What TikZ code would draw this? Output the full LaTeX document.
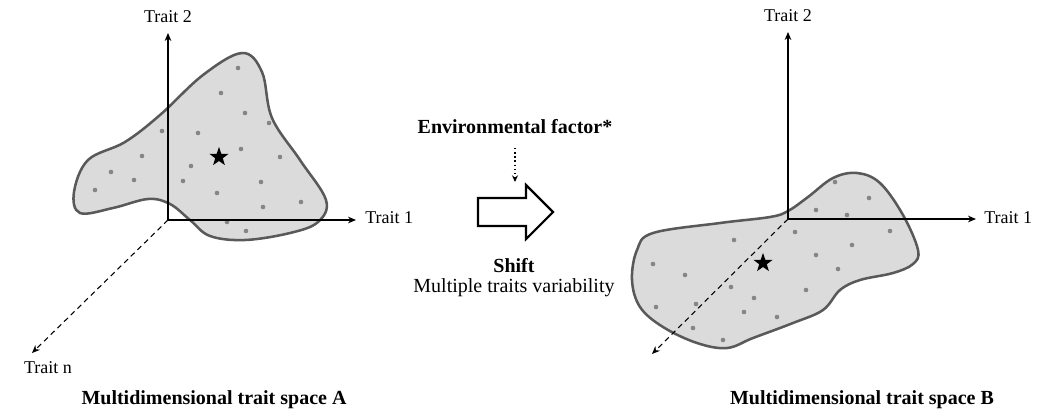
\documentclass[tikz,border=0pt]{standalone}
\usepackage{fontspec}
\setmainfont{Liberation Serif}
\usepackage{tikz}
\usetikzlibrary{arrows.meta,shapes.geometric}

\tikzset{
  axisline/.style={line width=0.8pt,-{Stealth[length=6pt,width=5pt]}},
  axisdash/.style={axisline,dash pattern=on 4pt off 3pt},
  blob/.style={draw=black!65,line width=1.9pt,fill=black!14},
  dotpt/.style={fill=black!48},
  lbl/.style={inner sep=0.75pt,font=\fontsize{13.5}{16}\selectfont},
  midlbl/.style={inner sep=0.75pt,font=\fontsize{15}{18}\selectfont},
  boldlbl/.style={inner sep=0.75pt,font=\fontsize{15}{18}\selectfont\bfseries},
  centroid/.style={star,star points=5,star point ratio=2.5,fill=black,inner sep=0pt,minimum size=15pt}
}

\begin{document}
\begin{tikzpicture}[x=0.75pt,y=0.75pt,yscale=-1,xscale=1]
\useasboundingbox (0,0) rectangle (1038,415);

%Shape: Blob A
\draw [blob] plot [smooth cycle, tension=0.6] coordinates {(242,53) (262,72) (272,118) (300,160) (326,200) (318,222) (290,233) (245,240) (210,236) (190,220) (170,204) (148,199) (113,208) (80,213) (74,192) (88,160) (125,142) (160,115) (203,75)};
% Dots A
\foreach \px/\py in {238/68,221/93,245/113,269/123,162/131,198/133,241/149,142/156,280/157,191/166,111/172,134/180,183/181,261/182,95/190,217/193,263/207,301/202,227/222,246/231}
  \fill [dotpt] (\px,\py) circle (2.3);
\node [centroid] (starA) at (219,157) {};

% Axes A
\coordinate (oA) at (168,220);
\coordinate (endTwoA) at (168,33);
\coordinate (endOneA) at (356,220);
\coordinate (endNA) at (32,353);
\draw [axisline] (oA) -- (endTwoA);
\draw [axisline] (oA) -- (endOneA);
\draw [axisdash] (oA) -- (endNA);

% Text Node
\node [lbl] (traitTwoA) at (168,17) {Trait 2};
\node [lbl,anchor=west] (traitOneA) at (364,218) {Trait 1};
\node [lbl] (traitNA) at (48,368) {Trait n};
\node [boldlbl] (spaceA) at (214,400) {Multidimensional trait space A};

%Shape: Blob B
\draw [blob] plot [smooth cycle, tension=0.6] coordinates {(788,211) (808,197) (833,178) (857,173) (880,183) (903,215) (918,250) (913,264) (893,273) (860,280) (840,290) (823,310) (793,323) (753,338) (727,348) (697,343) (663,327) (640,307) (632,280) (637,250) (653,233) (720,223) (770,217)};
% Dots B
\foreach \px/\py in {835/182,869/198,816/210,847/215,795/232,890/231,734/240,852/245,816/255,653/264,838/269,685/275,731/287,806/290,754/298,656/307,696/304,744/312,777/317,693/328,723/340}
  \fill [dotpt] (\px,\py) circle (2.3);
\node [centroid] (starB) at (763,263) {};

% Axes B
\coordinate (oB) at (788,219);
\coordinate (endTwoB) at (788,32);
\coordinate (endOneB) at (976,219);
\coordinate (endNB) at (652,354);
\draw [axisline] (oB) -- (endTwoB);
\draw [axisline] (oB) -- (endOneB);
\draw [axisdash] (oB) -- (endNB);

% Text Node
\node [lbl] (traitTwoB) at (788,16) {Trait 2};
\node [lbl,anchor=west] (traitOneB) at (983,218) {Trait 1};
\node [boldlbl] (spaceB) at (862,400) {Multidimensional trait space B};

%Shape: Block arrow
\draw [line width=1.6pt,fill=white] (478,198) -- (526,198) -- (526,185) -- (553,212) -- (526,239) -- (526,226) -- (478,226) -- cycle;

% Text Node
\node [boldlbl] (envFactor) at (515,127) {Environmental factor*};
\coordinate (envStart) at (515,148);
\coordinate (envEnd) at (515,182);
\draw [line width=1.1pt,dotted,-{Stealth[length=5pt,width=4.5pt]}] (envStart) -- (envEnd);
\node [boldlbl] (shiftLbl) at (514,266) {Shift};
\node [midlbl] (multiLbl) at (514,288) {Multiple traits variability};

\end{tikzpicture}
\end{document}
